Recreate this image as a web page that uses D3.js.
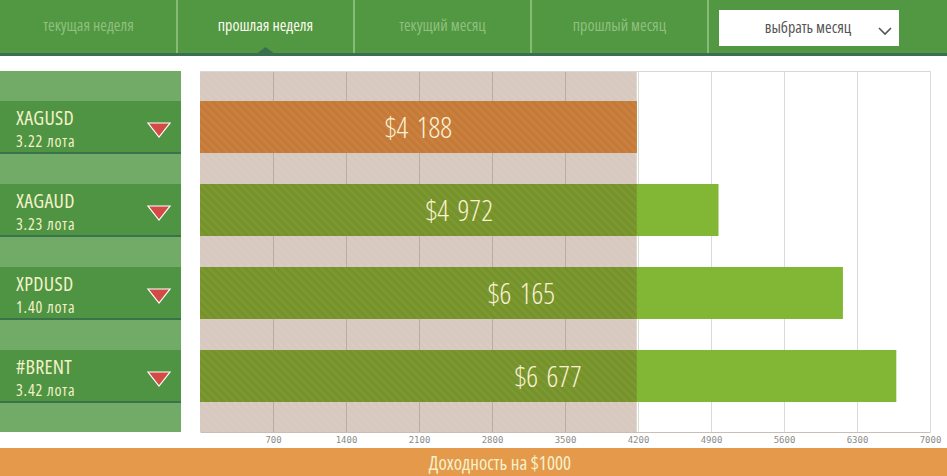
<!DOCTYPE html>
<html lang="ru">
<head>
<meta charset="UTF-8">
<title>Доходность на $1000</title>
<style>
    body { margin: 0; background: #fff; }
    svg { display: block; }
    .tab { font-family: "Open Sans", sans-serif; font-size: 16px; font-stretch: condensed; }
    .sym { font-family: "Open Sans", sans-serif; font-stretch: condensed; fill: #f3f1c9; }
    .val { font-family: "Open Sans", sans-serif; font-stretch: condensed; font-weight: 300; fill: #fbf1d2; }
    .tick text { font-family: "DejaVu Sans Mono", monospace; font-size: 9px; fill: #8a8a8a; }
</style>
</head>
<body>
<script src="https://d3js.org/d3.v7.min.js"></script>
<script>
// data
const tabs = ['текущая неделя', 'прошлая неделя', 'текущий месяц', 'прошлый месяц'];
const activeTab = 'прошлая неделя';
const symbols = ['XAGUSD', 'XAGAUD', 'XPDUSD', '#BRENT'];
const lots = ['3.22 лота', '3.23 лота', '1.40 лота', '3.42 лота'];
const profits = [4188, 4972, 6165, 6677];
const tickValues = [700, 1400, 2100, 2800, 3500, 4200, 4900, 5600, 6300, 7000];

const W = 947, H = 476;
const plot = { left: 200, right: 930, top: 71, bottom: 432 };

const svg = d3.select('body').append('svg').attr('width', W).attr('height', H);

// hatch pattern
const defs = svg.append('defs');
defs.append('pattern')
    .attr('id', 'hatch')
    .attr('width', 8).attr('height', 8)
    .attr('patternUnits', 'userSpaceOnUse')
    .append('path')
    .attr('d', 'M-2,-2 L10,10 M-2,6 L2,10 M6,-2 L10,2')
    .attr('stroke', 'rgba(255,255,255,0.05)')
    .attr('stroke-width', 2);

// --- top navigation
const nav = svg.append('g');
nav.append('rect').attr('width', W).attr('height', 53).attr('fill', '#529741');
nav.append('rect').attr('y', 53).attr('width', W).attr('height', 3).attr('fill', '#3a6f4f');

const tabX = d3.scaleBand().domain(tabs).range([0, 708]);
nav.selectAll('.sep')
    .data(tabs)
    .join('rect')
    .attr('class', 'sep')
    .attr('x', (d) => tabX(d) + tabX.bandwidth() - 1)
    .attr('y', 0)
    .attr('width', 2)
    .attr('height', 53)
    .attr('fill', '#86bb76');

nav.selectAll('.tab')
    .data(tabs)
    .join('text')
    .attr('class', 'tab')
    .attr('x', (d) => tabX(d) + tabX.bandwidth() / 2)
    .attr('y', 31)
    .attr('text-anchor', 'middle')
    .attr('fill', (d) => d === activeTab ? '#fbfbf0' : '#8fc07f')
    .text((d) => d);

const notchX = tabX(activeTab) + tabX.bandwidth() / 2;
nav.append('path')
    .attr('d', `M${notchX - 8},53 L${notchX},47 L${notchX + 8},53 Z`)
    .attr('fill', '#3a6f4f');

// month picker
nav.append('rect').attr('x', 719).attr('y', 10).attr('width', 180).attr('height', 36).attr('fill', '#fff');
nav.append('text')
    .attr('class', 'tab')
    .attr('x', 808).attr('y', 33)
    .attr('text-anchor', 'middle')
    .attr('fill', '#555')
    .text('выбрать месяц');
nav.append('path')
    .attr('d', 'M879,28 L885,34 L891,28')
    .attr('fill', 'none')
    .attr('stroke', '#555')
    .attr('stroke-width', 1.6);

// --- scales
const x = d3.scaleLinear().domain([0, 7000]).range([plot.left, plot.right]);
const y = d3.scaleBand()
    .domain(symbols)
    .range([plot.top, plot.bottom])
    .paddingInner(31 / 83)
    .paddingOuter(30 / 83);

const base = d3.min(profits);

// --- left panel
const left = svg.append('g');
left.append('rect')
    .attr('x', 0).attr('y', plot.top)
    .attr('width', 181).attr('height', plot.bottom - plot.top)
    .attr('fill', '#72aa68');

const rows = left.selectAll('.row')
    .data(symbols)
    .join('g')
    .attr('class', 'row')
    .attr('transform', (d) => `translate(0,${y(d)})`);

rows.append('rect')
    .attr('width', 181).attr('height', y.bandwidth())
    .attr('fill', '#4e9442');
rows.append('rect')
    .attr('y', y.bandwidth() - 1).attr('width', 181).attr('height', 2)
    .attr('fill', '#3a7349');
rows.append('text')
    .attr('class', 'sym')
    .attr('x', 16).attr('y', 24)
    .attr('font-size', 20)
    .attr('letter-spacing', 0.3)
    .text((d) => d);
rows.append('text')
    .attr('class', 'sym')
    .attr('x', 16).attr('y', 46)
    .attr('font-size', 16)
    .attr('letter-spacing', 0.8)
    .text((d, i) => lots[i]);
rows.append('path')
    .attr('d', 'M148,22 L170,22 L159,36 Z')
    .attr('fill', '#d24c45')
    .attr('stroke', '#fff')
    .attr('stroke-width', 1.2);

// --- chart background
const chart = svg.append('g');
chart.append('rect')
    .attr('x', x(0)).attr('y', plot.top)
    .attr('width', x(base) - x(0)).attr('height', plot.bottom - plot.top)
    .attr('fill', '#d7c9bf');
chart.append('rect')
    .attr('x', x(0)).attr('y', plot.top)
    .attr('width', x(base) - x(0)).attr('height', plot.bottom - plot.top)
    .attr('fill', 'url(#hatch)');

// grid + axis
const axis = chart.append('g')
    .attr('transform', `translate(0,${plot.bottom})`)
    .call(d3.axisBottom(x)
        .tickValues(tickValues)
        .tickSize(-(plot.bottom - plot.top))
        .tickSizeOuter(0)
        .tickFormat(d3.format('d')));
axis.select('.domain').attr('stroke', '#c9bdb6');
axis.selectAll('.tick line')
    .attr('stroke', (d) => x(d) < x(base) ? '#bcaca3' : '#dadada');
axis.selectAll('.tick text').attr('y', 5).attr('dy', '0.71em');

chart.append('line')
    .attr('x1', x(0)).attr('x2', x(7000))
    .attr('y1', plot.top + 0.5).attr('y2', plot.top + 0.5)
    .attr('stroke', '#d8d8d8');

// bars
const bars = chart.selectAll('.bar')
    .data(profits)
    .join('g')
    .attr('class', 'bar')
    .attr('transform', (d, i) => `translate(0,${y(symbols[i])})`);

bars.append('rect')
    .attr('x', x(0))
    .attr('width', (d) => x(d) - x(0))
    .attr('height', y.bandwidth())
    .attr('fill', '#82b736');
bars.append('rect')
    .attr('x', x(0))
    .attr('width', (d) => x(Math.min(d, base)) - x(0))
    .attr('height', y.bandwidth())
    .attr('fill', (d) => d === base ? '#c67a37' : '#76932a');
bars.append('rect')
    .attr('x', x(0))
    .attr('width', (d) => x(Math.min(d, base)) - x(0))
    .attr('height', y.bandwidth())
    .attr('fill', 'url(#hatch)');
bars.append('text')
    .attr('class', 'val')
    .attr('x', (d) => (x(0) + x(d)) / 2)
    .attr('y', 37)
    .attr('text-anchor', 'middle')
    .attr('font-size', 29)
    .attr('word-spacing', 3)
    .text((d) => '$' + d3.format(',')(d).replace(',', ' '));

// --- bottom band
svg.append('rect')
    .attr('x', 0).attr('y', 448)
    .attr('width', W).attr('height', H - 448)
    .attr('fill', '#e5994a');
svg.append('text')
    .attr('class', 'sym')
    .attr('x', 500).attr('y', 470)
    .attr('text-anchor', 'middle')
    .attr('font-size', 19)
    .attr('fill', '#fdf3d6')
    .text('Доходность на $1000');
</script>
</body>
</html>
